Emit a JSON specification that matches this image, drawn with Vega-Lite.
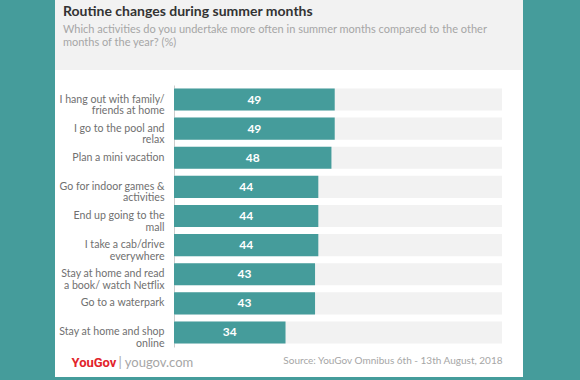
{
  "$schema": "https://vega.github.io/schema/vega-lite/v6.json",
  "background": "#459c9b",
  "padding": {"left": 55, "right": 57, "top": 0, "bottom": 3},
  "spacing": 0,
  "config": {"font": "Lato", "view": {"stroke": null}},
  "datasets": {
    "survey": [
      {"activity": "I hang out with family/\nfriends at home", "value": 49},
      {"activity": "I go to the pool and\nrelax", "value": 49},
      {"activity": "Plan a mini vacation", "value": 48},
      {"activity": "Go for indoor games &\nactivities", "value": 44},
      {"activity": "End up going to the\nmall", "value": 44},
      {"activity": "I take a cab/drive\neverywhere", "value": 44},
      {"activity": "Stay at home and read\na book/ watch Netflix", "value": 43},
      {"activity": "Go to a waterpark", "value": 43},
      {"activity": "Stay at home and shop\nonline", "value": 34}
    ]
  },
  "vconcat": [
    {
      "width": 468,
      "height": 70,
      "view": {"fill": "#f2f2f2", "stroke": null},
      "data": {"values": [{}]},
      "mark": {"type": "text", "text": ""},
      "encoding": {},
      "title": {
        "text": "Routine changes during summer months",
        "subtitle": ["Which activities do you undertake more often in summer months compared to the other", "months of the year? (%)"],
        "anchor": "start",
        "frame": "group",
        "dx": 8,
        "offset": -48,
        "font": "Lato",
        "fontSize": 14,
        "fontWeight": "bold",
        "color": "#333333",
        "subtitleFont": "Lato",
        "subtitleFontSize": 11,
        "subtitleColor": "#a6a6a6",
        "subtitleLineHeight": 13.5,
        "subtitlePadding": 5
      }
    },
    {
      "width": 468,
      "height": 307,
      "view": {"fill": "#ffffff", "stroke": null},
      "data": {"name": "survey"},
      "encoding": {
        "y": {
          "field": "activity",
          "type": "nominal",
          "sort": null,
          "scale": {"range": [15, 277], "paddingInner": 0.24, "paddingOuter": 0.12},
          "axis": {
            "offset": -119,
            "domainColor": "#cccccc",
            "ticks": false,
            "labelPadding": 10,
            "labelColor": "#707070",
            "labelFont": "Lato",
            "labelFontSize": 10.6,
            "labelLineHeight": 11.5,
            "labelLimit": 200,
            "labelExpr": "split(datum.label, '\\n')",
            "title": "YouGov",
            "titleAngle": 0,
            "titleX": -103,
            "titleY": 296,
            "titleAlign": "left",
            "titleBaseline": "alphabetic",
            "titleColor": "#e2242b",
            "titleFont": "Roboto",
            "titleFontSize": 13,
            "titleFontWeight": "bold"
          }
        }
      },
      "layer": [
        {
          "mark": {"type": "bar", "color": "#f2f2f2"},
          "encoding": {
            "x": {
              "datum": 100,
              "type": "quantitative",
              "scale": {"domain": [0, 100], "range": [119, 447]},
              "axis": {
                "orient": "top",
                "domain": false,
                "ticks": false,
                "labels": false,
                "grid": false,
                "title": "| yougov.com",
                "titleX": 63,
                "titleY": 296,
                "titleAlign": "left",
                "titleBaseline": "alphabetic",
                "titleColor": "#a6a6a6",
                "titleFont": "Lato",
                "titleFontSize": 13,
                "titleFontWeight": "normal"
              }
            }
          }
        },
        {
          "mark": {"type": "bar", "color": "#459c9b"},
          "encoding": {
            "x": {
              "field": "value",
              "type": "quantitative",
              "scale": {"domain": [0, 100], "range": [119, 447]},
              "axis": {
                "orient": "bottom",
                "domain": false,
                "ticks": false,
                "labels": false,
                "grid": false,
                "title": "Source: YouGov Omnibus 6th - 13th August, 2018",
                "titleX": 447,
                "titleY": -14,
                "titleAlign": "right",
                "titleBaseline": "alphabetic",
                "titleColor": "#a6a6a6",
                "titleFont": "Lato",
                "titleFontSize": 10,
                "titleFontWeight": "normal"
              }
            }
          }
        },
        {
          "mark": {"type": "text", "color": "#ffffff", "font": "Lato", "fontSize": 12, "fontWeight": "bold", "baseline": "middle", "align": "center"},
          "encoding": {
            "x": {
              "field": "value",
              "type": "quantitative",
              "scale": {"domain": [0, 200], "range": [119, 447]},
              "axis": null
            },
            "text": {"field": "value", "type": "quantitative"}
          }
        }
      ],
      "resolve": {"scale": {"x": "independent"}, "axis": {"x": "independent"}}
    }
  ]
}
